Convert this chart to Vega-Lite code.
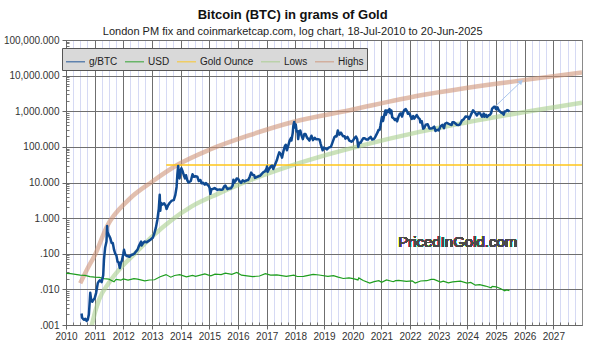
{
  "$schema": "https://vega.github.io/schema/vega-lite/v6.json",
  "width": 516,
  "height": 285,
  "autosize": {"type": "none"},
  "padding": {"left": 66, "top": 40, "right": 8, "bottom": 26},
  "background": "white",
  "title": {
    "text": "Bitcoin (BTC) in grams of Gold",
    "subtitle": "London PM fix and coinmarketcap.com, log chart, 18-Jul-2010 to 20-Jun-2025",
    "anchor": "middle",
    "frame": "bounds",
    "font": "Liberation Sans",
    "fontSize": 13,
    "fontWeight": "bold",
    "color": "#111111",
    "subtitleFont": "Liberation Sans",
    "subtitleFontSize": 11,
    "subtitleColor": "#222222",
    "offset": -2,
    "subtitlePadding": 4
  },
  "config": {
    "view": {"stroke": "#8a8a8a"},
    "font": "Liberation Sans",
    "legend": {
      "orient": "none",
      "legendX": -4,
      "legendY": 8,
      "direction": "horizontal",
      "symbolType": "stroke",
      "symbolSize": 361,
      "labelFont": "Liberation Sans",
      "labelFontSize": 10,
      "labelColor": "#222222",
      "fillColor": "#d9d9d9",
      "strokeColor": "#555555",
      "padding": 3,
      "columnPadding": 4,
      "labelOffset": 3
    }
  },
  "data": {
    "values": [
      {"series": "Highs", "date": "2010-07-01", "value": 0.0148},
      {"series": "Highs", "date": "2010-10-01", "value": 0.038},
      {"series": "Highs", "date": "2011-01-01", "value": 0.089},
      {"series": "Highs", "date": "2011-06-05", "value": 0.575},
      {"series": "Highs", "date": "2012-03-07", "value": 3.24},
      {"series": "Highs", "date": "2013-01-01", "value": 10.5},
      {"series": "Highs", "date": "2013-11-17", "value": 30.9},
      {"series": "Highs", "date": "2015-01-01", "value": 83},
      {"series": "Highs", "date": "2016-05-30", "value": 214},
      {"series": "Highs", "date": "2017-12-01", "value": 500},
      {"series": "Highs", "date": "2019-11-24", "value": 1072},
      {"series": "Highs", "date": "2022-05-01", "value": 2754},
      {"series": "Highs", "date": "2025-10-27", "value": 7244},
      {"series": "Highs", "date": "2028-01-01", "value": 12300},

      {"series": "Lows", "date": "2010-10-10", "value": 0.0003},
      {"series": "Lows", "date": "2010-11-26", "value": 0.001},
      {"series": "Lows", "date": "2011-02-24", "value": 0.005},
      {"series": "Lows", "date": "2011-06-28", "value": 0.0148},
      {"series": "Lows", "date": "2011-11-03", "value": 0.0347},
      {"series": "Lows", "date": "2012-05-30", "value": 0.102},
      {"series": "Lows", "date": "2013-01-01", "value": 0.302},
      {"series": "Lows", "date": "2013-09-09", "value": 0.89},
      {"series": "Lows", "date": "2014-05-22", "value": 2.14},
      {"series": "Lows", "date": "2015-04-20", "value": 4.8},
      {"series": "Lows", "date": "2016-04-20", "value": 10.7},
      {"series": "Lows", "date": "2017-06-17", "value": 23.4},
      {"series": "Lows", "date": "2018-11-06", "value": 52.5},
      {"series": "Lows", "date": "2020-02-17", "value": 100},
      {"series": "Lows", "date": "2022-05-01", "value": 263},
      {"series": "Lows", "date": "2024-01-01", "value": 490},
      {"series": "Lows", "date": "2026-01-01", "value": 955},
      {"series": "Lows", "date": "2028-01-01", "value": 1738},

      {"series": "Gold Ounce", "date": "2013-07-01", "value": 31.1035},
      {"series": "Gold Ounce", "date": "2028-01-01", "value": 31.1035},

      {"series": "USD", "date": "2010-01-01", "value": 0.0283},
      {"series": "USD", "date": "2010-03-01", "value": 0.0276},
      {"series": "USD", "date": "2010-05-01", "value": 0.0265},
      {"series": "USD", "date": "2010-07-01", "value": 0.0252},
      {"series": "USD", "date": "2010-09-01", "value": 0.0248},
      {"series": "USD", "date": "2010-11-01", "value": 0.0228},
      {"series": "USD", "date": "2011-01-01", "value": 0.0220},
      {"series": "USD", "date": "2011-03-01", "value": 0.0218},
      {"series": "USD", "date": "2011-05-01", "value": 0.0200},
      {"series": "USD", "date": "2011-07-01", "value": 0.0193},
      {"series": "USD", "date": "2011-09-05", "value": 0.0164},
      {"series": "USD", "date": "2011-10-01", "value": 0.0190},
      {"series": "USD", "date": "2011-12-01", "value": 0.0181},
      {"series": "USD", "date": "2012-01-01", "value": 0.0197},
      {"series": "USD", "date": "2012-03-01", "value": 0.0183},
      {"series": "USD", "date": "2012-05-15", "value": 0.0200},
      {"series": "USD", "date": "2012-07-01", "value": 0.0195},
      {"series": "USD", "date": "2012-10-01", "value": 0.0174},
      {"series": "USD", "date": "2012-12-01", "value": 0.0183},
      {"series": "USD", "date": "2013-02-01", "value": 0.0186},
      {"series": "USD", "date": "2013-04-15", "value": 0.0226},
      {"series": "USD", "date": "2013-06-28", "value": 0.0260},
      {"series": "USD", "date": "2013-08-28", "value": 0.0220},
      {"series": "USD", "date": "2013-10-15", "value": 0.0245},
      {"series": "USD", "date": "2013-12-20", "value": 0.0259},
      {"series": "USD", "date": "2014-03-15", "value": 0.0226},
      {"series": "USD", "date": "2014-06-01", "value": 0.0247},
      {"series": "USD", "date": "2014-07-10", "value": 0.0233},
      {"series": "USD", "date": "2014-11-05", "value": 0.0272},
      {"series": "USD", "date": "2015-01-20", "value": 0.0239},
      {"series": "USD", "date": "2015-03-15", "value": 0.0268},
      {"series": "USD", "date": "2015-06-01", "value": 0.0260},
      {"series": "USD", "date": "2015-07-24", "value": 0.0287},
      {"series": "USD", "date": "2015-10-15", "value": 0.0264},
      {"series": "USD", "date": "2015-12-17", "value": 0.0297},
      {"series": "USD", "date": "2016-02-15", "value": 0.0250},
      {"series": "USD", "date": "2016-07-06", "value": 0.0228},
      {"series": "USD", "date": "2016-10-01", "value": 0.0237},
      {"series": "USD", "date": "2016-12-15", "value": 0.0275},
      {"series": "USD", "date": "2017-02-20", "value": 0.0251},
      {"series": "USD", "date": "2017-05-10", "value": 0.0254},
      {"series": "USD", "date": "2017-09-08", "value": 0.0231},
      {"series": "USD", "date": "2017-12-12", "value": 0.0250},
      {"series": "USD", "date": "2018-01-25", "value": 0.0230},
      {"series": "USD", "date": "2018-04-15", "value": 0.0232},
      {"series": "USD", "date": "2018-08-16", "value": 0.0265},
      {"series": "USD", "date": "2018-10-30", "value": 0.0253},
      {"series": "USD", "date": "2019-02-20", "value": 0.0233},
      {"series": "USD", "date": "2019-05-01", "value": 0.0243},
      {"series": "USD", "date": "2019-07-01", "value": 0.0220},
      {"series": "USD", "date": "2019-09-04", "value": 0.0202},
      {"series": "USD", "date": "2019-11-15", "value": 0.0211},
      {"series": "USD", "date": "2020-01-08", "value": 0.0200},
      {"series": "USD", "date": "2020-03-09", "value": 0.0184},
      {"series": "USD", "date": "2020-03-19", "value": 0.0210},
      {"series": "USD", "date": "2020-05-15", "value": 0.0178},
      {"series": "USD", "date": "2020-08-06", "value": 0.0150},
      {"series": "USD", "date": "2020-10-01", "value": 0.0165},
      {"series": "USD", "date": "2020-11-30", "value": 0.0176},
      {"series": "USD", "date": "2021-01-05", "value": 0.0159},
      {"series": "USD", "date": "2021-03-08", "value": 0.0185},
      {"series": "USD", "date": "2021-06-01", "value": 0.0164},
      {"series": "USD", "date": "2021-07-01", "value": 0.0176},
      {"series": "USD", "date": "2021-08-09", "value": 0.0179},
      {"series": "USD", "date": "2021-11-16", "value": 0.0167},
      {"series": "USD", "date": "2022-01-28", "value": 0.0174},
      {"series": "USD", "date": "2022-03-08", "value": 0.0151},
      {"series": "USD", "date": "2022-05-16", "value": 0.0172},
      {"series": "USD", "date": "2022-08-01", "value": 0.0175},
      {"series": "USD", "date": "2022-09-28", "value": 0.0190},
      {"series": "USD", "date": "2022-11-03", "value": 0.0191},
      {"series": "USD", "date": "2023-01-25", "value": 0.0160},
      {"series": "USD", "date": "2023-03-01", "value": 0.0171},
      {"series": "USD", "date": "2023-05-04", "value": 0.0152},
      {"series": "USD", "date": "2023-06-29", "value": 0.0162},
      {"series": "USD", "date": "2023-10-05", "value": 0.0171},
      {"series": "USD", "date": "2023-12-28", "value": 0.0150},
      {"series": "USD", "date": "2024-02-14", "value": 0.0157},
      {"series": "USD", "date": "2024-04-12", "value": 0.0131},
      {"series": "USD", "date": "2024-06-07", "value": 0.0135},
      {"series": "USD", "date": "2024-08-20", "value": 0.0124},
      {"series": "USD", "date": "2024-10-30", "value": 0.0111},
      {"series": "USD", "date": "2024-11-14", "value": 0.0121},
      {"series": "USD", "date": "2025-01-02", "value": 0.0118},
      {"series": "USD", "date": "2025-02-24", "value": 0.0106},
      {"series": "USD", "date": "2025-04-22", "value": 0.0091},
      {"series": "USD", "date": "2025-05-15", "value": 0.0097},
      {"series": "USD", "date": "2025-06-20", "value": 0.0092},

      {"series": "g/BTC", "date": "2010-07-18", "value": 0.0021},
      {"series": "g/BTC", "date": "2010-07-25", "value": 0.0016},
      {"series": "g/BTC", "date": "2010-08-05", "value": 0.0015},
      {"series": "g/BTC", "date": "2010-08-20", "value": 0.0014},
      {"series": "g/BTC", "date": "2010-09-05", "value": 0.0015},
      {"series": "g/BTC", "date": "2010-09-20", "value": 0.0013},
      {"series": "g/BTC", "date": "2010-10-05", "value": 0.0014},
      {"series": "g/BTC", "date": "2010-10-20", "value": 0.0020},
      {"series": "g/BTC", "date": "2010-11-06", "value": 0.0080},
      {"series": "g/BTC", "date": "2010-11-15", "value": 0.0055},
      {"series": "g/BTC", "date": "2010-12-01", "value": 0.0045},
      {"series": "g/BTC", "date": "2010-12-15", "value": 0.0050},
      {"series": "g/BTC", "date": "2011-01-01", "value": 0.0056},
      {"series": "g/BTC", "date": "2011-01-20", "value": 0.0080},
      {"series": "g/BTC", "date": "2011-02-10", "value": 0.0150},
      {"series": "g/BTC", "date": "2011-02-25", "value": 0.0170},
      {"series": "g/BTC", "date": "2011-03-10", "value": 0.0180},
      {"series": "g/BTC", "date": "2011-04-01", "value": 0.0160},
      {"series": "g/BTC", "date": "2011-04-20", "value": 0.025},
      {"series": "g/BTC", "date": "2011-04-30", "value": 0.07},
      {"series": "g/BTC", "date": "2011-05-15", "value": 0.15},
      {"series": "g/BTC", "date": "2011-06-01", "value": 0.22},
      {"series": "g/BTC", "date": "2011-06-09", "value": 0.60},
      {"series": "g/BTC", "date": "2011-06-15", "value": 0.40},
      {"series": "g/BTC", "date": "2011-06-25", "value": 0.35},
      {"series": "g/BTC", "date": "2011-07-05", "value": 0.32},
      {"series": "g/BTC", "date": "2011-07-20", "value": 0.27},
      {"series": "g/BTC", "date": "2011-08-05", "value": 0.20},
      {"series": "g/BTC", "date": "2011-08-20", "value": 0.20},
      {"series": "g/BTC", "date": "2011-09-05", "value": 0.13},
      {"series": "g/BTC", "date": "2011-09-20", "value": 0.10},
      {"series": "g/BTC", "date": "2011-10-05", "value": 0.09},
      {"series": "g/BTC", "date": "2011-10-20", "value": 0.06},
      {"series": "g/BTC", "date": "2011-11-01", "value": 0.058},
      {"series": "g/BTC", "date": "2011-11-18", "value": 0.040},
      {"series": "g/BTC", "date": "2011-12-01", "value": 0.055},
      {"series": "g/BTC", "date": "2011-12-15", "value": 0.065},
      {"series": "g/BTC", "date": "2012-01-01", "value": 0.10},
      {"series": "g/BTC", "date": "2012-01-10", "value": 0.13},
      {"series": "g/BTC", "date": "2012-01-25", "value": 0.095},
      {"series": "g/BTC", "date": "2012-02-15", "value": 0.086},
      {"series": "g/BTC", "date": "2012-03-01", "value": 0.085},
      {"series": "g/BTC", "date": "2012-03-20", "value": 0.082},
      {"series": "g/BTC", "date": "2012-04-10", "value": 0.092},
      {"series": "g/BTC", "date": "2012-05-01", "value": 0.095},
      {"series": "g/BTC", "date": "2012-05-20", "value": 0.10},
      {"series": "g/BTC", "date": "2012-06-10", "value": 0.115},
      {"series": "g/BTC", "date": "2012-07-01", "value": 0.13},
      {"series": "g/BTC", "date": "2012-07-20", "value": 0.17},
      {"series": "g/BTC", "date": "2012-08-15", "value": 0.22},
      {"series": "g/BTC", "date": "2012-08-20", "value": 0.17},
      {"series": "g/BTC", "date": "2012-09-10", "value": 0.20},
      {"series": "g/BTC", "date": "2012-10-01", "value": 0.22},
      {"series": "g/BTC", "date": "2012-10-25", "value": 0.21},
      {"series": "g/BTC", "date": "2012-11-20", "value": 0.23},
      {"series": "g/BTC", "date": "2012-12-15", "value": 0.25},
      {"series": "g/BTC", "date": "2013-01-10", "value": 0.28},
      {"series": "g/BTC", "date": "2013-01-30", "value": 0.37},
      {"series": "g/BTC", "date": "2013-02-20", "value": 0.55},
      {"series": "g/BTC", "date": "2013-03-10", "value": 0.90},
      {"series": "g/BTC", "date": "2013-03-28", "value": 1.8},
      {"series": "g/BTC", "date": "2013-04-09", "value": 4.5},
      {"series": "g/BTC", "date": "2013-04-16", "value": 1.6},
      {"series": "g/BTC", "date": "2013-04-25", "value": 2.7},
      {"series": "g/BTC", "date": "2013-05-15", "value": 2.4},
      {"series": "g/BTC", "date": "2013-06-05", "value": 2.6},
      {"series": "g/BTC", "date": "2013-06-25", "value": 2.2},
      {"series": "g/BTC", "date": "2013-07-05", "value": 1.8},
      {"series": "g/BTC", "date": "2013-07-25", "value": 2.3},
      {"series": "g/BTC", "date": "2013-08-15", "value": 2.7},
      {"series": "g/BTC", "date": "2013-09-10", "value": 3.1},
      {"series": "g/BTC", "date": "2013-10-05", "value": 3.2},
      {"series": "g/BTC", "date": "2013-10-25", "value": 4.5},
      {"series": "g/BTC", "date": "2013-11-10", "value": 7.5},
      {"series": "g/BTC", "date": "2013-11-20", "value": 17},
      {"series": "g/BTC", "date": "2013-11-30", "value": 29},
      {"series": "g/BTC", "date": "2013-12-07", "value": 21},
      {"series": "g/BTC", "date": "2013-12-18", "value": 13},
      {"series": "g/BTC", "date": "2013-12-28", "value": 19},
      {"series": "g/BTC", "date": "2014-01-10", "value": 25},
      {"series": "g/BTC", "date": "2014-01-28", "value": 20},
      {"series": "g/BTC", "date": "2014-02-10", "value": 16},
      {"series": "g/BTC", "date": "2014-02-25", "value": 13},
      {"series": "g/BTC", "date": "2014-03-10", "value": 16},
      {"series": "g/BTC", "date": "2014-03-25", "value": 11.7},
      {"series": "g/BTC", "date": "2014-04-10", "value": 10},
      {"series": "g/BTC", "date": "2014-04-25", "value": 10.5},
      {"series": "g/BTC", "date": "2014-05-10", "value": 11},
      {"series": "g/BTC", "date": "2014-06-01", "value": 17},
      {"series": "g/BTC", "date": "2014-06-20", "value": 14.5},
      {"series": "g/BTC", "date": "2014-07-10", "value": 15},
      {"series": "g/BTC", "date": "2014-08-01", "value": 14.5},
      {"series": "g/BTC", "date": "2014-08-20", "value": 11},
      {"series": "g/BTC", "date": "2014-09-10", "value": 11.7},
      {"series": "g/BTC", "date": "2014-09-25", "value": 9.5},
      {"series": "g/BTC", "date": "2014-10-15", "value": 9.8},
      {"series": "g/BTC", "date": "2014-11-05", "value": 8.7},
      {"series": "g/BTC", "date": "2014-11-20", "value": 9.6},
      {"series": "g/BTC", "date": "2014-12-10", "value": 8.5},
      {"series": "g/BTC", "date": "2014-12-25", "value": 8.0},
      {"series": "g/BTC", "date": "2015-01-05", "value": 7.0},
      {"series": "g/BTC", "date": "2015-01-14", "value": 4.8},
      {"series": "g/BTC", "date": "2015-01-28", "value": 6.5},
      {"series": "g/BTC", "date": "2015-02-15", "value": 6.6},
      {"series": "g/BTC", "date": "2015-03-10", "value": 7.0},
      {"series": "g/BTC", "date": "2015-03-25", "value": 6.6},
      {"series": "g/BTC", "date": "2015-04-15", "value": 6.2},
      {"series": "g/BTC", "date": "2015-05-10", "value": 6.4},
      {"series": "g/BTC", "date": "2015-06-01", "value": 6.3},
      {"series": "g/BTC", "date": "2015-06-20", "value": 6.4},
      {"series": "g/BTC", "date": "2015-07-10", "value": 7.8},
      {"series": "g/BTC", "date": "2015-07-25", "value": 8.2},
      {"series": "g/BTC", "date": "2015-08-20", "value": 6.5},
      {"series": "g/BTC", "date": "2015-09-10", "value": 6.8},
      {"series": "g/BTC", "date": "2015-10-05", "value": 6.9},
      {"series": "g/BTC", "date": "2015-10-25", "value": 8.2},
      {"series": "g/BTC", "date": "2015-11-04", "value": 12},
      {"series": "g/BTC", "date": "2015-11-12", "value": 9.8},
      {"series": "g/BTC", "date": "2015-12-01", "value": 11},
      {"series": "g/BTC", "date": "2015-12-15", "value": 13},
      {"series": "g/BTC", "date": "2016-01-05", "value": 12.5},
      {"series": "g/BTC", "date": "2016-01-20", "value": 11},
      {"series": "g/BTC", "date": "2016-02-10", "value": 9.8},
      {"series": "g/BTC", "date": "2016-03-01", "value": 11.5},
      {"series": "g/BTC", "date": "2016-03-25", "value": 10.7},
      {"series": "g/BTC", "date": "2016-04-20", "value": 11.5},
      {"series": "g/BTC", "date": "2016-05-10", "value": 11.8},
      {"series": "g/BTC", "date": "2016-05-30", "value": 14.5},
      {"series": "g/BTC", "date": "2016-06-17", "value": 19},
      {"series": "g/BTC", "date": "2016-07-05", "value": 16.5},
      {"series": "g/BTC", "date": "2016-07-25", "value": 16},
      {"series": "g/BTC", "date": "2016-08-05", "value": 13.5},
      {"series": "g/BTC", "date": "2016-08-25", "value": 14.2},
      {"series": "g/BTC", "date": "2016-09-20", "value": 15},
      {"series": "g/BTC", "date": "2016-10-10", "value": 15.5},
      {"series": "g/BTC", "date": "2016-10-30", "value": 17.5},
      {"series": "g/BTC", "date": "2016-11-20", "value": 19.5},
      {"series": "g/BTC", "date": "2016-12-10", "value": 20.5},
      {"series": "g/BTC", "date": "2016-12-31", "value": 25},
      {"series": "g/BTC", "date": "2017-01-05", "value": 28},
      {"series": "g/BTC", "date": "2017-01-12", "value": 20},
      {"series": "g/BTC", "date": "2017-02-01", "value": 24},
      {"series": "g/BTC", "date": "2017-02-25", "value": 29},
      {"series": "g/BTC", "date": "2017-03-10", "value": 30},
      {"series": "g/BTC", "date": "2017-03-25", "value": 24},
      {"series": "g/BTC", "date": "2017-04-15", "value": 31},
      {"series": "g/BTC", "date": "2017-05-10", "value": 42},
      {"series": "g/BTC", "date": "2017-05-25", "value": 55},
      {"series": "g/BTC", "date": "2017-06-10", "value": 70},
      {"series": "g/BTC", "date": "2017-07-01", "value": 62},
      {"series": "g/BTC", "date": "2017-07-15", "value": 50},
      {"series": "g/BTC", "date": "2017-08-05", "value": 80},
      {"series": "g/BTC", "date": "2017-08-20", "value": 105},
      {"series": "g/BTC", "date": "2017-09-01", "value": 115},
      {"series": "g/BTC", "date": "2017-09-15", "value": 80},
      {"series": "g/BTC", "date": "2017-10-01", "value": 105},
      {"series": "g/BTC", "date": "2017-10-20", "value": 150},
      {"series": "g/BTC", "date": "2017-11-08", "value": 180},
      {"series": "g/BTC", "date": "2017-11-12", "value": 150},
      {"series": "g/BTC", "date": "2017-11-28", "value": 240},
      {"series": "g/BTC", "date": "2017-12-07", "value": 400},
      {"series": "g/BTC", "date": "2017-12-17", "value": 500},
      {"series": "g/BTC", "date": "2017-12-22", "value": 350},
      {"series": "g/BTC", "date": "2018-01-06", "value": 430},
      {"series": "g/BTC", "date": "2018-01-17", "value": 270},
      {"series": "g/BTC", "date": "2018-01-28", "value": 280},
      {"series": "g/BTC", "date": "2018-02-06", "value": 165},
      {"series": "g/BTC", "date": "2018-02-20", "value": 275},
      {"series": "g/BTC", "date": "2018-03-05", "value": 285},
      {"series": "g/BTC", "date": "2018-03-20", "value": 210},
      {"series": "g/BTC", "date": "2018-04-06", "value": 165},
      {"series": "g/BTC", "date": "2018-04-25", "value": 230},
      {"series": "g/BTC", "date": "2018-05-10", "value": 230},
      {"series": "g/BTC", "date": "2018-05-28", "value": 185},
      {"series": "g/BTC", "date": "2018-06-15", "value": 165},
      {"series": "g/BTC", "date": "2018-06-29", "value": 150},
      {"series": "g/BTC", "date": "2018-07-25", "value": 205},
      {"series": "g/BTC", "date": "2018-08-14", "value": 155},
      {"series": "g/BTC", "date": "2018-09-05", "value": 180},
      {"series": "g/BTC", "date": "2018-09-20", "value": 165},
      {"series": "g/BTC", "date": "2018-10-15", "value": 165},
      {"series": "g/BTC", "date": "2018-11-05", "value": 160},
      {"series": "g/BTC", "date": "2018-11-20", "value": 120},
      {"series": "g/BTC", "date": "2018-12-15", "value": 80},
      {"series": "g/BTC", "date": "2018-12-30", "value": 95},
      {"series": "g/BTC", "date": "2019-01-20", "value": 90},
      {"series": "g/BTC", "date": "2019-02-08", "value": 85},
      {"series": "g/BTC", "date": "2019-03-01", "value": 95},
      {"series": "g/BTC", "date": "2019-03-30", "value": 100},
      {"series": "g/BTC", "date": "2019-04-15", "value": 125},
      {"series": "g/BTC", "date": "2019-05-15", "value": 190},
      {"series": "g/BTC", "date": "2019-05-30", "value": 200},
      {"series": "g/BTC", "date": "2019-06-10", "value": 195},
      {"series": "g/BTC", "date": "2019-06-26", "value": 290},
      {"series": "g/BTC", "date": "2019-07-15", "value": 220},
      {"series": "g/BTC", "date": "2019-08-05", "value": 250},
      {"series": "g/BTC", "date": "2019-08-30", "value": 200},
      {"series": "g/BTC", "date": "2019-09-20", "value": 200},
      {"series": "g/BTC", "date": "2019-10-01", "value": 170},
      {"series": "g/BTC", "date": "2019-10-27", "value": 190},
      {"series": "g/BTC", "date": "2019-11-20", "value": 150},
      {"series": "g/BTC", "date": "2019-12-17", "value": 140},
      {"series": "g/BTC", "date": "2020-01-05", "value": 150},
      {"series": "g/BTC", "date": "2020-01-20", "value": 170},
      {"series": "g/BTC", "date": "2020-02-12", "value": 195},
      {"series": "g/BTC", "date": "2020-02-28", "value": 165},
      {"series": "g/BTC", "date": "2020-03-12", "value": 100},
      {"series": "g/BTC", "date": "2020-03-25", "value": 130},
      {"series": "g/BTC", "date": "2020-04-10", "value": 130},
      {"series": "g/BTC", "date": "2020-04-30", "value": 155},
      {"series": "g/BTC", "date": "2020-05-15", "value": 175},
      {"series": "g/BTC", "date": "2020-06-01", "value": 175},
      {"series": "g/BTC", "date": "2020-06-25", "value": 160},
      {"series": "g/BTC", "date": "2020-07-15", "value": 160},
      {"series": "g/BTC", "date": "2020-07-28", "value": 175},
      {"series": "g/BTC", "date": "2020-08-18", "value": 190},
      {"series": "g/BTC", "date": "2020-09-05", "value": 160},
      {"series": "g/BTC", "date": "2020-09-25", "value": 165},
      {"series": "g/BTC", "date": "2020-10-10", "value": 180},
      {"series": "g/BTC", "date": "2020-10-25", "value": 210},
      {"series": "g/BTC", "date": "2020-11-15", "value": 260},
      {"series": "g/BTC", "date": "2020-11-25", "value": 300},
      {"series": "g/BTC", "date": "2020-12-10", "value": 300},
      {"series": "g/BTC", "date": "2020-12-20", "value": 390},
      {"series": "g/BTC", "date": "2021-01-08", "value": 690},
      {"series": "g/BTC", "date": "2021-01-22", "value": 530},
      {"series": "g/BTC", "date": "2021-02-08", "value": 800},
      {"series": "g/BTC", "date": "2021-02-21", "value": 1050},
      {"series": "g/BTC", "date": "2021-02-28", "value": 800},
      {"series": "g/BTC", "date": "2021-03-13", "value": 1050},
      {"series": "g/BTC", "date": "2021-03-25", "value": 950},
      {"series": "g/BTC", "date": "2021-04-14", "value": 1150},
      {"series": "g/BTC", "date": "2021-04-25", "value": 880},
      {"series": "g/BTC", "date": "2021-05-08", "value": 1050},
      {"series": "g/BTC", "date": "2021-05-19", "value": 680},
      {"series": "g/BTC", "date": "2021-06-10", "value": 620},
      {"series": "g/BTC", "date": "2021-06-22", "value": 570},
      {"series": "g/BTC", "date": "2021-07-07", "value": 610},
      {"series": "g/BTC", "date": "2021-07-20", "value": 520},
      {"series": "g/BTC", "date": "2021-08-07", "value": 700},
      {"series": "g/BTC", "date": "2021-08-23", "value": 840},
      {"series": "g/BTC", "date": "2021-09-07", "value": 870},
      {"series": "g/BTC", "date": "2021-09-21", "value": 710},
      {"series": "g/BTC", "date": "2021-10-06", "value": 920},
      {"series": "g/BTC", "date": "2021-10-20", "value": 1080},
      {"series": "g/BTC", "date": "2021-11-08", "value": 1150},
      {"series": "g/BTC", "date": "2021-11-28", "value": 960},
      {"series": "g/BTC", "date": "2021-12-04", "value": 850},
      {"series": "g/BTC", "date": "2021-12-27", "value": 860},
      {"series": "g/BTC", "date": "2022-01-10", "value": 700},
      {"series": "g/BTC", "date": "2022-01-24", "value": 610},
      {"series": "g/BTC", "date": "2022-02-10", "value": 730},
      {"series": "g/BTC", "date": "2022-02-24", "value": 620},
      {"series": "g/BTC", "date": "2022-03-28", "value": 780},
      {"series": "g/BTC", "date": "2022-04-18", "value": 650},
      {"series": "g/BTC", "date": "2022-05-05", "value": 600},
      {"series": "g/BTC", "date": "2022-05-12", "value": 485},
      {"series": "g/BTC", "date": "2022-05-30", "value": 530},
      {"series": "g/BTC", "date": "2022-06-18", "value": 325},
      {"series": "g/BTC", "date": "2022-07-01", "value": 340},
      {"series": "g/BTC", "date": "2022-07-20", "value": 420},
      {"series": "g/BTC", "date": "2022-08-14", "value": 430},
      {"series": "g/BTC", "date": "2022-09-06", "value": 330},
      {"series": "g/BTC", "date": "2022-09-20", "value": 330},
      {"series": "g/BTC", "date": "2022-10-10", "value": 335},
      {"series": "g/BTC", "date": "2022-11-05", "value": 370},
      {"series": "g/BTC", "date": "2022-11-21", "value": 280},
      {"series": "g/BTC", "date": "2022-12-15", "value": 300},
      {"series": "g/BTC", "date": "2023-01-01", "value": 290},
      {"series": "g/BTC", "date": "2023-01-25", "value": 380},
      {"series": "g/BTC", "date": "2023-02-16", "value": 415},
      {"series": "g/BTC", "date": "2023-03-10", "value": 335},
      {"series": "g/BTC", "date": "2023-03-22", "value": 445},
      {"series": "g/BTC", "date": "2023-04-14", "value": 475},
      {"series": "g/BTC", "date": "2023-05-10", "value": 445},
      {"series": "g/BTC", "date": "2023-06-15", "value": 410},
      {"series": "g/BTC", "date": "2023-06-25", "value": 490},
      {"series": "g/BTC", "date": "2023-07-15", "value": 490},
      {"series": "g/BTC", "date": "2023-08-20", "value": 420},
      {"series": "g/BTC", "date": "2023-09-10", "value": 410},
      {"series": "g/BTC", "date": "2023-10-01", "value": 430},
      {"series": "g/BTC", "date": "2023-10-25", "value": 555},
      {"series": "g/BTC", "date": "2023-11-15", "value": 590},
      {"series": "g/BTC", "date": "2023-12-08", "value": 710},
      {"series": "g/BTC", "date": "2024-01-10", "value": 700},
      {"series": "g/BTC", "date": "2024-01-23", "value": 610},
      {"series": "g/BTC", "date": "2024-02-15", "value": 790},
      {"series": "g/BTC", "date": "2024-03-14", "value": 1060},
      {"series": "g/BTC", "date": "2024-03-25", "value": 1000},
      {"series": "g/BTC", "date": "2024-04-20", "value": 850},
      {"series": "g/BTC", "date": "2024-05-01", "value": 760},
      {"series": "g/BTC", "date": "2024-05-21", "value": 890},
      {"series": "g/BTC", "date": "2024-06-10", "value": 880},
      {"series": "g/BTC", "date": "2024-07-05", "value": 700},
      {"series": "g/BTC", "date": "2024-07-28", "value": 860},
      {"series": "g/BTC", "date": "2024-08-05", "value": 700},
      {"series": "g/BTC", "date": "2024-08-25", "value": 800},
      {"series": "g/BTC", "date": "2024-09-06", "value": 690},
      {"series": "g/BTC", "date": "2024-09-28", "value": 770},
      {"series": "g/BTC", "date": "2024-10-15", "value": 790},
      {"series": "g/BTC", "date": "2024-10-30", "value": 880},
      {"series": "g/BTC", "date": "2024-11-12", "value": 1190},
      {"series": "g/BTC", "date": "2024-11-22", "value": 1250},
      {"series": "g/BTC", "date": "2024-12-05", "value": 1330},
      {"series": "g/BTC", "date": "2024-12-17", "value": 1340},
      {"series": "g/BTC", "date": "2024-12-30", "value": 1150},
      {"series": "g/BTC", "date": "2025-01-20", "value": 1280},
      {"series": "g/BTC", "date": "2025-02-03", "value": 1070},
      {"series": "g/BTC", "date": "2025-02-25", "value": 960},
      {"series": "g/BTC", "date": "2025-03-10", "value": 900},
      {"series": "g/BTC", "date": "2025-03-25", "value": 900},
      {"series": "g/BTC", "date": "2025-04-08", "value": 800},
      {"series": "g/BTC", "date": "2025-04-22", "value": 990},
      {"series": "g/BTC", "date": "2025-05-10", "value": 1000},
      {"series": "g/BTC", "date": "2025-05-22", "value": 1080},
      {"series": "g/BTC", "date": "2025-06-05", "value": 1050},
      {"series": "g/BTC", "date": "2025-06-20", "value": 980},

      {"series": "arrow", "date": "2024-12-17", "value": 1340},
      {"series": "arrow", "date": "2025-11-15", "value": 6750}
    ]
  },
  "resolve": {"axis": {"x": "independent", "y": "independent"}},
  "layer": [
    {
      "mark": {"type": "line", "opacity": 0},
      "encoding": {
        "x": {
          "field": "date", "type": "temporal",
          "scale": {"type": "utc", "domain": [{"year": 2010, "month": 1, "date": 1, "utc": true}, {"year": 2028, "month": 1, "date": 1, "utc": true}]},
          "axis": {"orient": "bottom", "title": null, "labels": false, "domain": false, "ticks": true, "tickSize": -3, "tickColor": "#777777", "grid": true, "gridColor": "#d6daf4", "gridWidth": 1, "gridOpacity": 1,
            "values": [
              {"year": 2010, "month": 4, "utc": true}, {"year": 2010, "month": 7, "utc": true}, {"year": 2010, "month": 10, "utc": true},
              {"year": 2011, "month": 4, "utc": true}, {"year": 2011, "month": 7, "utc": true}, {"year": 2011, "month": 10, "utc": true},
              {"year": 2012, "month": 4, "utc": true}, {"year": 2012, "month": 7, "utc": true}, {"year": 2012, "month": 10, "utc": true},
              {"year": 2013, "month": 4, "utc": true}, {"year": 2013, "month": 7, "utc": true}, {"year": 2013, "month": 10, "utc": true},
              {"year": 2014, "month": 4, "utc": true}, {"year": 2014, "month": 7, "utc": true}, {"year": 2014, "month": 10, "utc": true},
              {"year": 2015, "month": 4, "utc": true}, {"year": 2015, "month": 7, "utc": true}, {"year": 2015, "month": 10, "utc": true},
              {"year": 2016, "month": 4, "utc": true}, {"year": 2016, "month": 7, "utc": true}, {"year": 2016, "month": 10, "utc": true},
              {"year": 2017, "month": 4, "utc": true}, {"year": 2017, "month": 7, "utc": true}, {"year": 2017, "month": 10, "utc": true},
              {"year": 2018, "month": 4, "utc": true}, {"year": 2018, "month": 7, "utc": true}, {"year": 2018, "month": 10, "utc": true},
              {"year": 2019, "month": 4, "utc": true}, {"year": 2019, "month": 7, "utc": true}, {"year": 2019, "month": 10, "utc": true},
              {"year": 2020, "month": 4, "utc": true}, {"year": 2020, "month": 7, "utc": true}, {"year": 2020, "month": 10, "utc": true},
              {"year": 2021, "month": 4, "utc": true}, {"year": 2021, "month": 7, "utc": true}, {"year": 2021, "month": 10, "utc": true},
              {"year": 2022, "month": 4, "utc": true}, {"year": 2022, "month": 7, "utc": true}, {"year": 2022, "month": 10, "utc": true},
              {"year": 2023, "month": 4, "utc": true}, {"year": 2023, "month": 7, "utc": true}, {"year": 2023, "month": 10, "utc": true},
              {"year": 2024, "month": 4, "utc": true}, {"year": 2024, "month": 7, "utc": true}, {"year": 2024, "month": 10, "utc": true},
              {"year": 2025, "month": 4, "utc": true}, {"year": 2025, "month": 7, "utc": true}, {"year": 2025, "month": 10, "utc": true},
              {"year": 2026, "month": 4, "utc": true}, {"year": 2026, "month": 7, "utc": true}, {"year": 2026, "month": 10, "utc": true},
              {"year": 2027, "month": 4, "utc": true}, {"year": 2027, "month": 7, "utc": true}, {"year": 2027, "month": 10, "utc": true}
            ]}
        },
        "y": {
          "field": "value", "type": "quantitative",
          "scale": {"type": "log", "domain": [0.001, 100000]},
          "axis": {"orient": "left", "title": null, "labels": false, "domain": false, "grid": false, "ticks": true, "tickSize": -3, "tickColor": "#777777",
            "values": [0.002,0.003,0.004,0.005,0.006,0.007,0.008,0.009,0.02,0.03,0.04,0.05,0.06,0.07,0.08,0.09,0.2,0.3,0.4,0.5,0.6,0.7,0.8,0.9,2,3,4,5,6,7,8,9,20,30,40,50,60,70,80,90,200,300,400,500,600,700,800,900,2000,3000,4000,5000,6000,7000,8000,9000,20000,30000,40000,50000,60000,70000,80000,90000]}
        }
      }
    },
    {
      "transform": [{"filter": "datum.series === 'Highs' || datum.series === 'Lows'"}],
      "mark": {"type": "line", "interpolate": "monotone", "clip": true, "strokeCap": "butt", "strokeWidth": 4.5, "opacity": 0.6},
      "encoding": {
        "x": {
          "field": "date", "type": "temporal",
          "axis": {"orient": "bottom", "title": null, "format": "%Y", "labelFont": "Liberation Sans", "labelFontSize": 10, "labelColor": "#333333", "labelPadding": 2, "labelFlush": false, "labelOverlap": false, "tickSize": 4, "tickColor": "#666666", "domainColor": "#666666", "grid": true, "gridColor": "#6f6f6f", "gridWidth": 1, "gridOpacity": 1,
            "values": [{"year": 2010, "utc": true},{"year": 2011, "utc": true},{"year": 2012, "utc": true},{"year": 2013, "utc": true},{"year": 2014, "utc": true},{"year": 2015, "utc": true},{"year": 2016, "utc": true},{"year": 2017, "utc": true},{"year": 2018, "utc": true},{"year": 2019, "utc": true},{"year": 2020, "utc": true},{"year": 2021, "utc": true},{"year": 2022, "utc": true},{"year": 2023, "utc": true},{"year": 2024, "utc": true},{"year": 2025, "utc": true},{"year": 2026, "utc": true},{"year": 2027, "utc": true}]}
        },
        "y": {
          "field": "value", "type": "quantitative",
          "axis": {"orient": "left", "title": null, "values": [0.001, 0.01, 0.1, 1, 10, 100, 1000, 10000, 100000],
            "labelExpr": "datum.value >= 1 ? format(datum.value, ',.3f') : substring(format(datum.value, '.3f'), 1)",
            "labelFont": "Liberation Sans", "labelFontSize": 10, "labelColor": "#333333", "labelPadding": 3, "labelFlush": false, "tickSize": 4, "tickColor": "#666666", "domainColor": "#666666", "grid": true, "gridColor": "#6f6f6f", "gridWidth": 1, "gridOpacity": 1}
        },
        "color": {"field": "series", "type": "nominal",
          "scale": {"domain": ["g/BTC", "USD", "Gold Ounce", "Lows", "Highs"], "range": ["#0f4a92", "#1f9e1f", "#ffc61a", "#a8cf8c", "#cf9478"]},
          "legend": {"title": null, "fillColor": "#d9d9d9", "strokeColor": "#555555", "padding": 3, "columnPadding": 4, "symbolSize": 361,
            "encode": {"symbols": {"update": {
              "strokeWidth": {"signal": "datum.value === 'Lows' || datum.value === 'Highs' ? 4 : 2"},
              "opacity": {"signal": "datum.value === 'Lows' || datum.value === 'Highs' ? 0.6 : 1"}}}}}}
      }
    },
    {
      "transform": [{"filter": "datum.series === 'Gold Ounce'"}],
      "mark": {"type": "line", "clip": true, "strokeWidth": 1.6},
      "encoding": {
        "x": {"field": "date", "type": "temporal", "axis": null},
        "y": {"field": "value", "type": "quantitative", "axis": null},
        "color": {"field": "series", "type": "nominal", "legend": {"title": null}}
      }
    },
    {
      "transform": [{"filter": "datum.series === 'USD'"}],
      "mark": {"type": "line", "clip": true, "strokeWidth": 1.2},
      "encoding": {
        "x": {"field": "date", "type": "temporal", "axis": null},
        "y": {"field": "value", "type": "quantitative", "axis": null},
        "color": {"field": "series", "type": "nominal", "legend": {"title": null}}
      }
    },
    {
      "transform": [{"filter": "datum.series === 'arrow'"}],
      "mark": {"type": "line", "color": "#a9c6ec", "strokeWidth": 1},
      "encoding": {
        "x": {"field": "date", "type": "temporal", "axis": null},
        "y": {"field": "value", "type": "quantitative", "axis": null}
      }
    },
    {
      "transform": [{"filter": "datum.series === 'arrow' && datum.value > 5000"}],
      "mark": {"type": "point", "shape": "triangle-up", "angle": 47, "size": 30, "filled": true, "color": "#a9c6ec", "opacity": 1},
      "encoding": {
        "x": {"field": "date", "type": "temporal", "axis": null},
        "y": {"field": "value", "type": "quantitative", "axis": null}
      }
    },
    {
      "transform": [{"filter": "datum.series === 'g/BTC'"}],
      "mark": {"type": "line", "clip": true, "strokeJoin": "round", "strokeWidth": 2.5},
      "encoding": {
        "x": {"field": "date", "type": "temporal", "axis": null},
        "y": {"field": "value", "type": "quantitative", "axis": null},
        "color": {"field": "series", "type": "nominal", "legend": {"title": null}}
      }
    },
    {
      "mark": {"type": "text", "text": "PricedInGold.com", "font": "Liberation Sans", "fontWeight": "normal", "fontSize": 15, "color": "#4a4a4a", "align": "center", "baseline": "middle"},
      "encoding": {
        "x": {"datum": {"year": 2023, "month": 9, "date": 1, "utc": true}, "type": "temporal", "axis": null},
        "y": {"datum": 0.22, "type": "quantitative", "axis": null}
      }
    }
  ]
}
